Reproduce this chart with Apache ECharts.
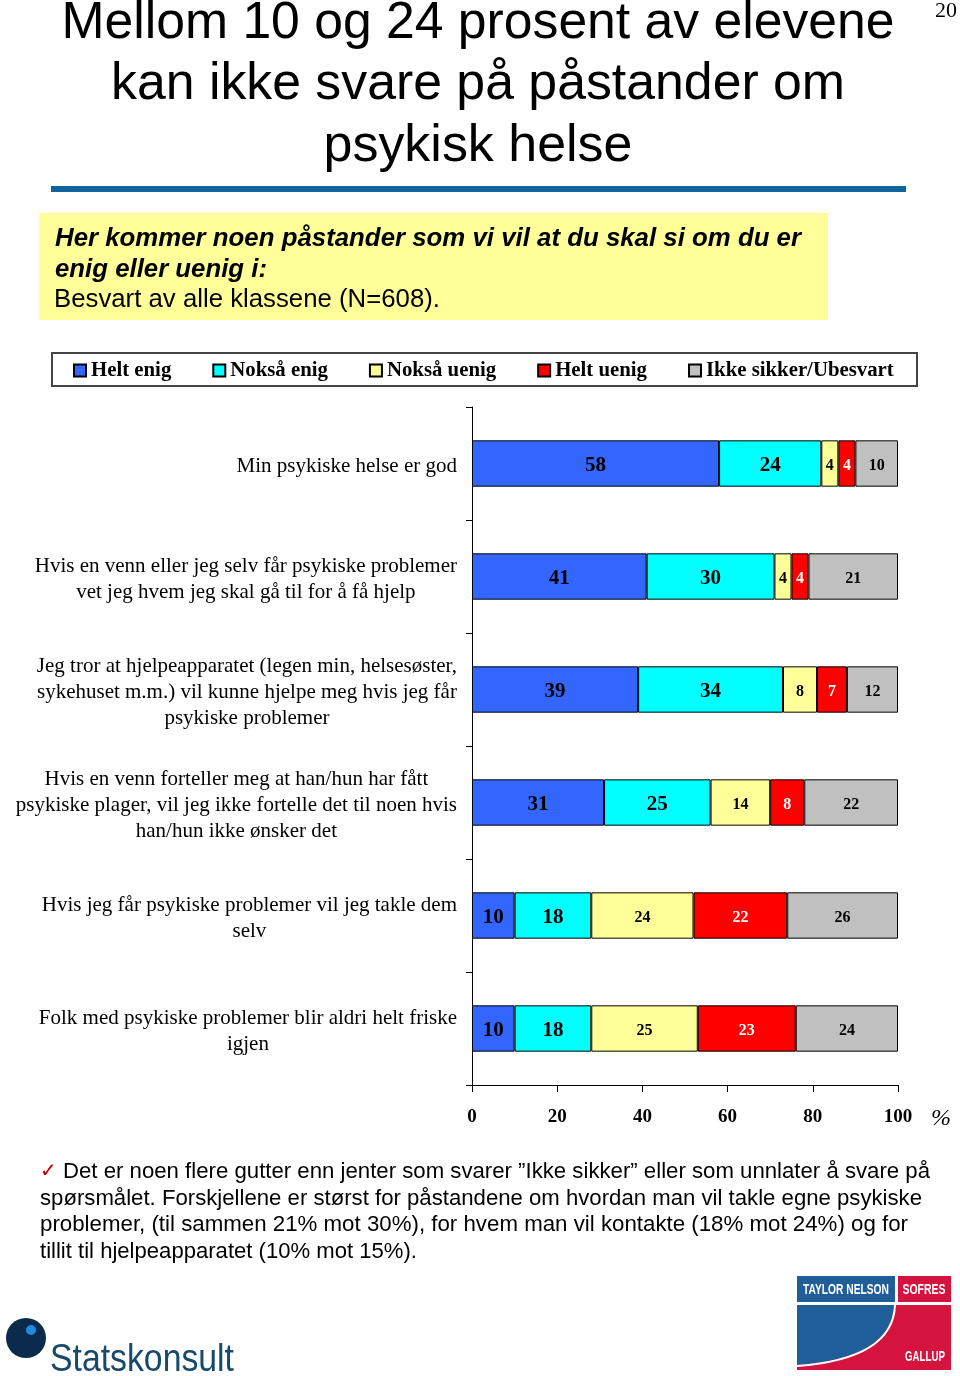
<!DOCTYPE html>
<html><head><meta charset="utf-8">
<script src="https://cdn.jsdelivr.net/npm/echarts@6/dist/echarts.min.js"></script>
<style>html,body{margin:0;padding:0;background:#fff}#c{width:960px;height:1376px}</style>
</head><body><div id="c"></div>
<script>
const categories = [
  "Min psykiske helse er god",
  "Hvis en venn eller jeg selv får psykiske problemer\nvet jeg hvem jeg skal gå til for å få hjelp",
  "Jeg tror at hjelpeapparatet (legen min, helsesøster,\nsykehuset m.m.) vil kunne hjelpe meg hvis jeg får\npsykiske problemer",
  "Hvis en venn forteller meg at han/hun har fått\npsykiske plager, vil jeg ikke fortelle det til noen hvis\nhan/hun ikke ønsker det",
  "Hvis jeg får psykiske problemer vil jeg takle dem\nselv",
  "Folk med psykiske problemer blir aldri helt friske\nigjen"
];
const seriesNames = ["Helt enig", "Nokså enig", "Nokså uenig", "Helt uenig", "Ikke sikker/Ubesvart"];
const heltEnig   = [58, 41, 39, 31, 10, 10];
const noksaEnig  = [24, 30, 34, 25, 18, 18];
const noksaUenig = [4, 4, 8, 14, 24, 25];
const heltUenig  = [4, 4, 7, 8, 22, 23];
const ikkeSikker = [10, 21, 12, 22, 26, 24];

const titleLines = ["Mellom 10 og 24 prosent av elevene", "kan ikke svare på påstander om", "psykisk helse"];
const boxLines = ["Her kommer noen påstander som vi vil at du skal si om du er", "enig eller uenig i:", "Besvart av alle klassene (N=608)."];
const noteLines = [
  "Det er noen flere gutter enn jenter som svarer ”Ikke sikker” eller som unnlater å svare på",
  "spørsmålet. Forskjellene er størst for påstandene om hvordan man vil takle egne psykiske",
  "problemer, (til sammen 21% mot 30%), for hvem man vil kontakte (18% mot 24%) og for",
  "tillit til hjelpeapparatet (10% mot 15%)."
];

const SERIF = '"Liberation Serif", "Times New Roman", serif';
const SANS = '"Liberation Sans", Arial, sans-serif';
const NARROW = '"Liberation Sans Narrow", "Liberation Sans", Arial, sans-serif';
const colors = ['#3366FF', '#00FFFF', '#FFFF99', '#FF0000', '#C0C0C0'];
const values = [heltEnig, noksaEnig, noksaUenig, heltUenig, ikkeSikker];

const mctx = document.createElement('canvas').getContext('2d');
function txt(text, x, y, o) {
  const size = o.size, weight = o.weight || 'normal', fstyle = o.fstyle || 'normal', family = o.family || SANS;
  let sx = 1;
  if (o.width) {
    mctx.font = fstyle + ' ' + weight + ' ' + size + 'px ' + family;
    sx = o.width / mctx.measureText(text).width;
  }
  return {
    type: 'text', x: x, y: y, scaleX: sx, scaleY: 1, z: 10,
    style: {
      text: text, x: 0, y: 0, fill: o.color || '#000',
      fontSize: size, fontFamily: family, fontWeight: weight, fontStyle: fstyle,
      align: o.align || 'left', verticalAlign: 'middle'
    }
  };
}

// TNS logo blue area: polygon bounded by a quadratic curve
function quadPts(x0, y0, cx, cy, x1, y1, n) {
  const pts = [];
  for (let k = 0; k <= n; k++) {
    const t = k / n, u = 1 - t;
    pts.push([u * u * x0 + 2 * u * t * cx + t * t * x1, u * u * y0 + 2 * u * t * cy + t * t * y1]);
  }
  return pts;
}
const tnsBluePts = [[797, 1305]].concat(quadPts(894, 1305, 892, 1358, 797, 1365, 24));

const graphics = [
  txt(titleLines[0], 478, 24, {size: 52, width: 833, align: 'center'}),
  txt(titleLines[1], 478, 85, {size: 52, width: 734, align: 'center'}),
  txt(titleLines[2], 478, 147, {size: 52, width: 309, align: 'center'}),
  txt('20', 946, 11, {size: 22, family: SERIF, align: 'center'}),
  {type: 'rect', shape: {x: 51, y: 186, width: 855, height: 6}, style: {fill: '#11659F'}},
  {type: 'rect', shape: {x: 39, y: 213, width: 789, height: 107}, style: {fill: '#FFFF99'}},
  txt(boxLines[0], 55, 239, {size: 25, weight: 'bold', fstyle: 'italic', width: 746}),
  txt(boxLines[1], 55, 270, {size: 25, weight: 'bold', fstyle: 'italic', width: 212}),
  txt(boxLines[2], 54, 300, {size: 25, width: 386}),
  {type: 'rect', shape: {x: 52, y: 353, width: 865, height: 33}, style: {fill: '#fff', stroke: '#444', lineWidth: 2}, z: 0},
  txt('%', 941, 1119, {size: 24, family: SERIF, fstyle: 'italic', align: 'center'}),
  txt('✓', 40, 1172, {size: 20, family: '"DejaVu Sans", sans-serif', color: '#C00000'}),
  txt(noteLines[0], 63, 1172, {size: 22, width: 867}),
  txt(noteLines[1], 40, 1199, {size: 22, width: 882}),
  txt(noteLines[2], 40, 1225, {size: 22, width: 868}),
  txt(noteLines[3], 40, 1252, {size: 22, width: 377}),
  // Statskonsult logo
  {type: 'circle', shape: {cx: 26, cy: 1338, r: 20}, style: {fill: '#0B2A4C'}},
  {type: 'circle', shape: {cx: 31, cy: 1330, r: 5}, style: {fill: '#1E8BE0'}},
  txt('Statskonsult', 50, 1361, {size: 38, family: NARROW, width: 184, color: '#17496D'}),
  // TNS logo
  {type: 'rect', shape: {x: 797, y: 1276, width: 98, height: 26}, style: {fill: '#1F5E98'}},
  {type: 'rect', shape: {x: 898, y: 1276, width: 53, height: 26}, style: {fill: '#D4143F'}},
  {type: 'rect', shape: {x: 797, y: 1305, width: 154, height: 65}, style: {fill: '#D4143F'}},
  {type: 'polygon', shape: {points: tnsBluePts}, style: {fill: '#1F5E98'}},
  {type: 'bezierCurve', shape: {x1: 895, y1: 1305, cpx1: 893, cpy1: 1359, x2: 797, y2: 1366}, style: {fill: null, stroke: '#fff', lineWidth: 2}},
  txt('TAYLOR NELSON', 846, 1290, {size: 15, weight: 'bold', family: NARROW, width: 86, color: '#fff', align: 'center'}),
  txt('SOFRES', 924, 1290, {size: 15, weight: 'bold', family: NARROW, width: 43, color: '#fff', align: 'center'}),
  txt('GALLUP', 925, 1357, {size: 15, weight: 'bold', family: NARROW, width: 40, color: '#fff', align: 'center'})
];

const chart = echarts.init(document.getElementById('c'), null, {renderer: 'canvas'});
chart.setOption({
  animation: false,
  backgroundColor: '#fff',
  grid: {left: 472, right: 62, top: 407, bottom: 291, containLabel: false},
  legend: {
    left: 73, top: 360, padding: 0, itemWidth: 12, itemHeight: 12, itemGap: 41, icon: 'rect',
    data: seriesNames, selectedMode: false,
    textStyle: {fontFamily: SERIF, fontWeight: 'bold', fontSize: 20.8, color: '#000'}
  },
  xAxis: {
    type: 'value', min: 0, max: 100, interval: 20,
    axisLine: {show: true, lineStyle: {color: '#000', width: 1}},
    axisTick: {show: true, length: 7, lineStyle: {color: '#000'}},
    splitLine: {show: false},
    axisLabel: {margin: 23, fontFamily: SERIF, fontWeight: 'bold', fontSize: 19, color: '#000'}
  },
  yAxis: {
    type: 'category', inverse: true, data: categories,
    axisLine: {show: true, lineStyle: {color: '#000', width: 1}},
    axisTick: {show: true, length: 6, lineStyle: {color: '#000'}},
    axisLabel: {
      margin: 15, color: '#000', padding: [6, 0, 0, 0],
      formatter: function (v) { return v.split('\n').map(function (l) { return '{c|' + l + '}'; }).join('\n'); },
      rich: {c: {align: 'center', fontFamily: SERIF, fontSize: 21, lineHeight: 26, color: '#000'}}
    }
  },
  series: seriesNames.map(function (name, i) {
    return {
      name: name, type: 'bar', stack: 'all', data: values[i], barWidth: '41%',
      itemStyle: {color: colors[i], borderColor: '#000', borderWidth: 1},
      emphasis: {disabled: true},
      label: {
        show: true, position: 'inside', offset: [0, 2], color: i === 3 ? '#fff' : '#000',
        fontFamily: SERIF, fontWeight: 'bold', fontSize: i < 2 ? 21 : 16
      }
    };
  }),
  graphic: graphics
});
</script>
</body></html>
